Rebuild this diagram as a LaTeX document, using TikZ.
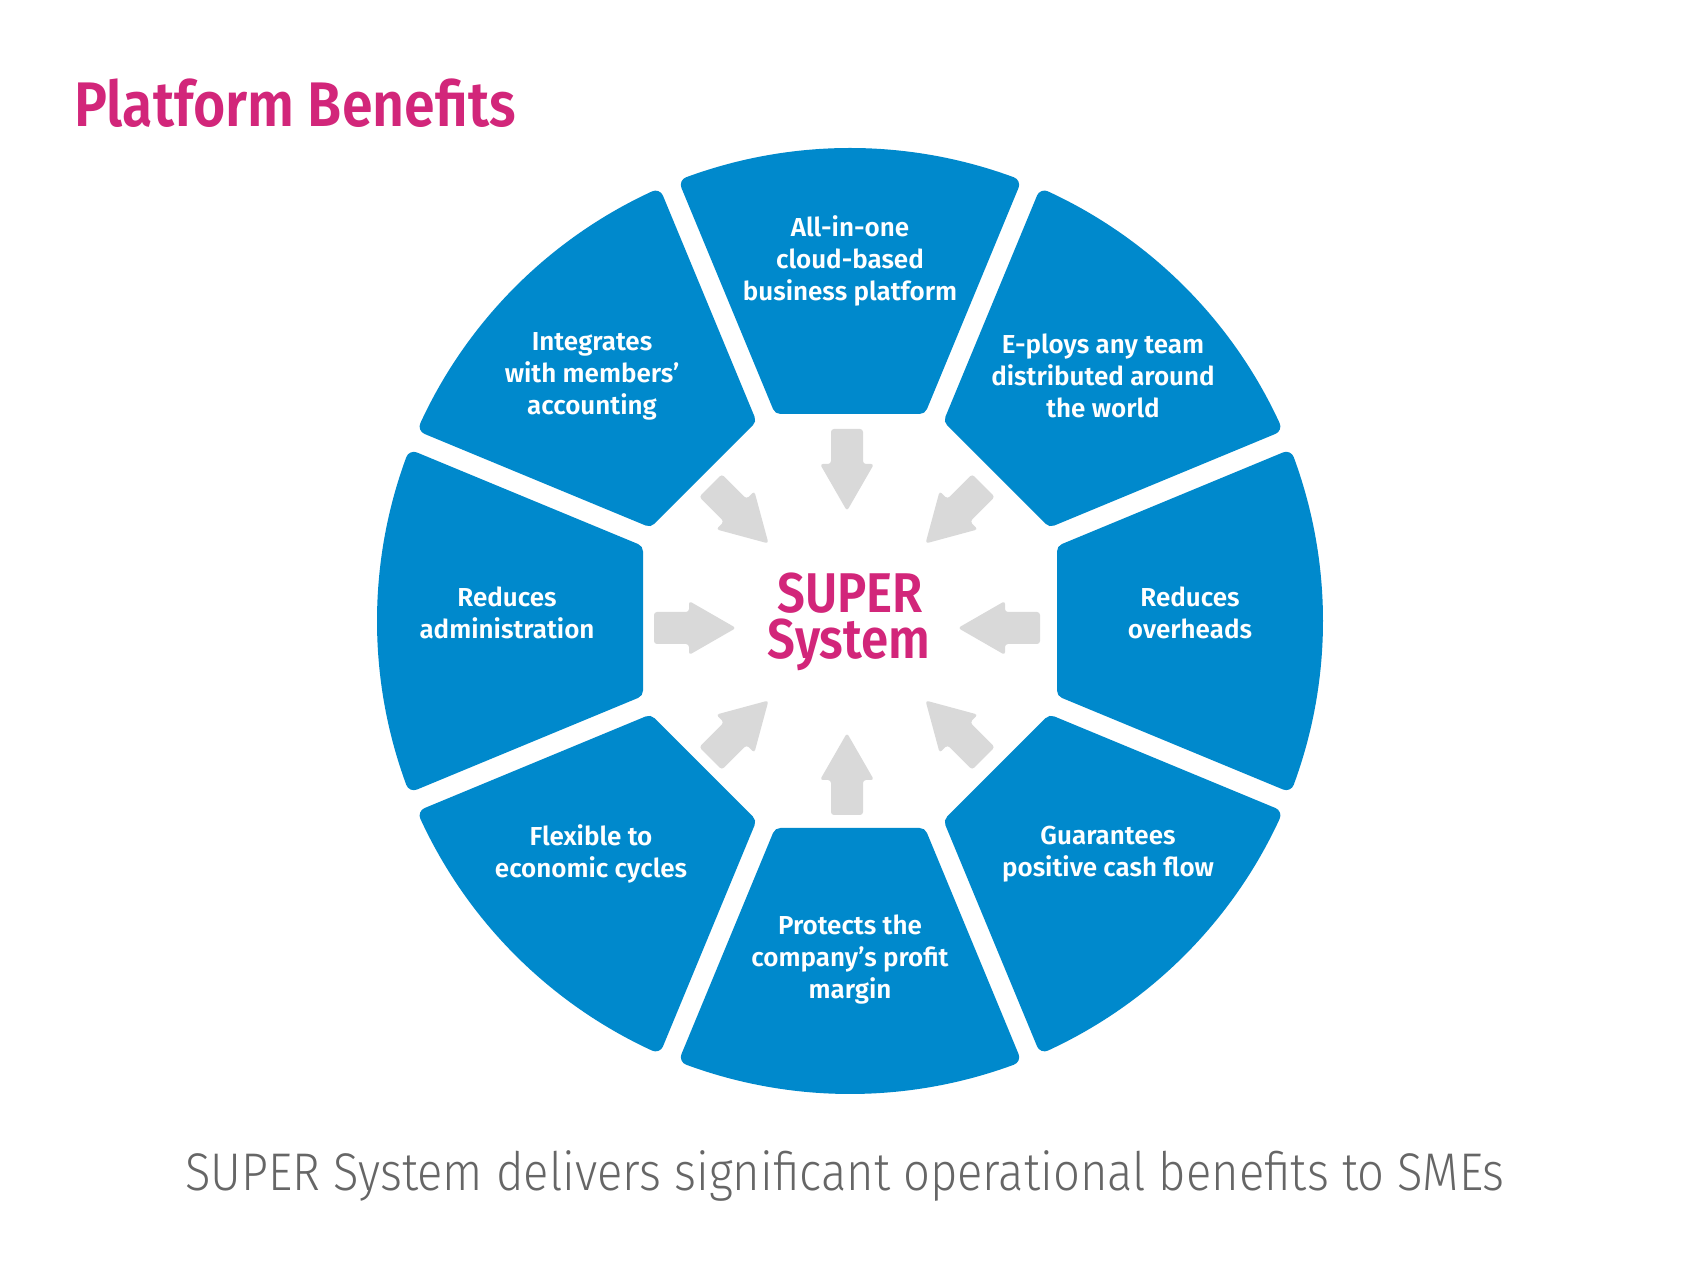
\documentclass[tikz,border=0pt]{standalone}
\usepackage{fontspec}
\setmainfont{Fira Sans}[BoldFont={Fira Sans SemiBold}]
\newfontfamily\condbold{Fira Sans SemiBold}[FakeStretch=0.88]
\newfontfamily\condlight{Fira Sans Light}[FakeStretch=0.89]
\definecolor{segblue}{HTML}{0089CC}
\definecolor{superpink}{HTML}{D2267A}
\definecolor{arrowgray}{HTML}{D9D9D9}
\definecolor{capgray}{HTML}{666666}
\begin{document}
\begin{tikzpicture}[x=1pt,y=1pt,
  seg/.style={fill=segblue,draw=segblue,line width=16pt,line join=round},
  segtext/.style={text=white,font=\fontsize{26}{32}\selectfont\bfseries,align=center,inner sep=0pt},
  fatarrow/.style={fill=arrowgray,rounded corners=3pt}]
\useasboundingbox (0,0) rectangle (1701,1276);
\fill[white] (0,0) rectangle (1701,1276);
\coordinate (c) at (850,655);
% ring segments
\foreach \i in {0,...,7}{
  \begin{scope}[shift={(c)},rotate=-45*\i]
    \path[seg] (-69.57,215) -- (-161.19,436.18)
      arc[start angle=110.28,end angle=69.72,radius=465]
      -- (69.57,215) -- cycle;
  \end{scope}}
% arrows pointing to centre
\coordinate (ac) at (847,654);
\foreach \ang/\dy in {0/-6,45/0,90/0,135/0,180/-6,225/0,270/0,315/0}{
  \begin{scope}[shift={(ac)},yshift=\dy,rotate=\ang]
    \path[fatarrow] (111,0) -- (158,27) -- (158,16) -- (193,16) -- (193,-16)
      -- (158,-16) -- (158,-27) -- cycle;
  \end{scope}}
% texts
\node[anchor=base west,text=superpink,font=\fontsize{63}{70}\condbold,inner sep=0pt] (title) at (74,1149) {Platform Benefits};
\node[anchor=base,text=superpink,font=\fontsize{56}{48}\condbold,inner sep=0pt] (super) at (850,663) {SUPER};
\node[anchor=base,text=superpink,font=\fontsize{56}{48}\condbold,inner sep=0pt] (system) at (849,617) {System};
\node[segtext] (s0) at (850,1015) {All-in-one\\cloud-based\\business platform};
\node[segtext] (s1) at (1103,900) {E-ploys any team\\distributed around\\the world};
\node[segtext] (s2) at (1190,663) {Reduces\\overheads};
\node[segtext] (s3) at (1108,422) {Guarantees\\positive cash flow};
\node[segtext] (s4) at (850,316) {Protects the\\company’s profit\\margin};
\node[segtext] (s5) at (591,422) {Flexible to\\economic cycles};
\node[segtext] (s6) at (507,663) {Reduces\\administration};
\node[segtext] (s7) at (592,900) {Integrates\\with members’\\accounting};
\node[text=capgray,font=\fontsize{53}{60}\condlight,inner sep=0pt,anchor=base] (caption) at (845,85) {SUPER System delivers significant operational benefits to SMEs};
\end{tikzpicture}
\end{document}
